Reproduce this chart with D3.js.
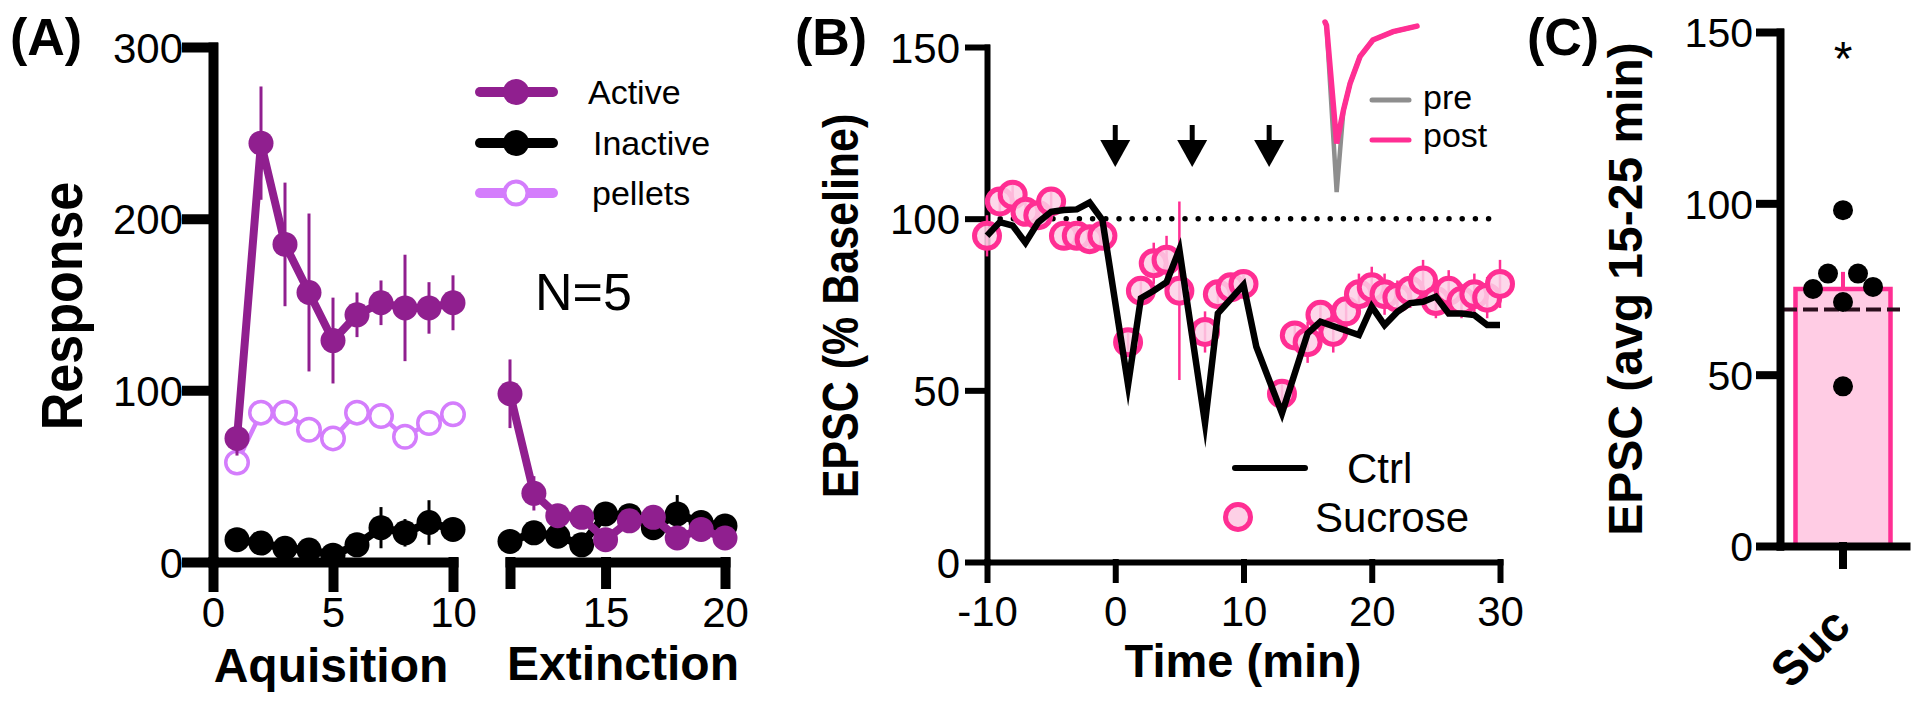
<!DOCTYPE html>
<html><head><meta charset="utf-8">
<script src="https://cdn.jsdelivr.net/npm/d3@7"></script>
<style>
body{margin:0;background:#fff}
svg{display:block}
text{font-family:"Liberation Sans",Arial,Helvetica,sans-serif}
</style>
</head><body>
<svg id="c" width="1920" height="709"></svg>
<script>
// ---------- DATA ----------
// Panel A
const acqX = [1,2,3,4,5,6,7,8,9,10];
const acqActive = [72,244,185,157,129,144,151,148,148,151];
const acqActiveSem = [10,33,36,46,25,13,13,31,15,16];
const acqInactive = [13,11,8,7,4,10,20,17,23,19];
const acqInactiveSem = [2,2,2,2,2,3,12,8,13,5];
const acqPellets = [58,87,87,77,72,87,85,73,81,86];
const extX = [11,12,13,14,15,16,17,18,19,20];
const extActive = [98,40,27,26,13,24,26,14,19,14];
const extActiveSem = [20,10,3,3,3,3,3,3,3,3];
const extInactive = [12,17,15,10,28,27,20,28,23,21];
const extInactiveSem = [3,3,3,3,3,3,3,11,3,3];
const aYTicks = [0,100,200,300];
const aAcqTicks = [0,5,10];
const aExtTicks = [11,15,20];
const aLegend = ["Active","Inactive","pellets"];

// Panel B
const sucT = [-10,-9,-8,-7,-6,-5,-4,-3,-2,-1,1,2,3,4,5,7,8,9,10,13,14,15,16,17,18,19,20,21,22,23,24,25,26,27,28,29,30];
const sucV = [95,105,107,102,101,105,95,95,94,95,64,79,87,88,79,67,78,80,81,49,66,64,72,67,73,78,80,78,77,79,82,76,79,76,78,77,81];
const sucSem = [6,4,4,4,4,4,4,4,4,4,4,4,6,7,26,6,4,4,4,4,4,6,4,6,5,6,6,6,5,5,6,5,6,5,6,6,7];
const ctrlT = [-10,-9,-8,-7,-6,-5,-4,-3,-2,-1,1,2,3,4,5,7,8,10,11,13,15,16,19,20,21,22,23,24,25,26,27,28,29,30];
const ctrlV = [95,99,98,93,99,102,102.5,102.7,104.7,99.6,51.6,76.8,79,81.5,91,40.4,72.4,80.7,62.7,43.3,66.6,70,66.1,74.4,69,72.9,75.4,75.8,77.3,72.4,72.4,71.9,69,69];
const arrowTimes = [0,6,12];
const baselineLevel = 100;
const bYTicks = [0,50,100,150];
const bXTicks = [-10,0,10,20,30];
const traceT = [0,0.5,3.8,6,8.2,11.4,15.6,22.2,30];
const tracePre = [0,-2,-100,-52,-36,-20.4,-10.6,-5.7,-2.4];
const tracePost = [0,-2,-71.5,-52,-36,-20.4,-10.6,-5.7,-2.4];
const traceLegend = ["pre","post"];

// Panel C
const cCategories = ["Suc"];
const cMean = [75];
const cSem = [5];
const cDots = [98,79.5,79.5,75,75.6,71.2,46.6];
const cDotOffsets = [0,-1,1,-2,2,0,0];
const cCtrlLevel = 69;
const cYTicks = [0,50,100,150];

// ---------- STYLE ----------
const PURPLE = "#901f8f", LILAC = "#d47dfc", PINK = "#ff2e93", PINKFILL = "#fdd0e6", GREY = "#8e8e8e";
const svg = d3.select("#c");

function styleAxis(g, w, fs){
  g.attr("font-family",null).attr("font-size",null);
  g.select(".domain").attr("stroke","#000").attr("stroke-width",w).attr("stroke-linecap","square");
  g.selectAll(".tick line").attr("stroke","#000").attr("stroke-width",w).attr("stroke-linecap","square");
  g.selectAll(".tick text").attr("fill","#000").attr("font-size",fs)
    .attr("font-family",'"Liberation Sans",Arial,sans-serif');
}

// ---------- PANEL A ----------
const yA = d3.scaleLinear().domain([0,300]).range([562,47]);
const xA1 = d3.scaleLinear().domain([0,10]).range([213,453]);
const xA2 = d3.scaleLinear().domain([11,20]).range([510,725]);
const gA = svg.append("g");

styleAxis(gA.append("g").attr("transform","translate(213,0)")
  .call(d3.axisLeft(yA).tickValues(aYTicks).tickSize(26).tickSizeOuter(0).tickPadding(4)),10,42);
styleAxis(gA.append("g").attr("transform","translate(0,562)")
  .call(d3.axisBottom(xA1).tickValues(aAcqTicks).tickSize(25).tickSizeOuter(0).tickPadding(10)),10,42);
styleAxis(gA.append("g").attr("transform","translate(0,562)")
  .call(d3.axisBottom(xA2).tickValues(aExtTicks).tickSize(22).tickSizeOuter(0).tickPadding(13)
  .tickFormat(d=> d===11 ? "" : d)),10,42);
gA.selectAll(".tick text").filter(function(){return d3.select(this).attr("dy")==="0.32em";}).attr("dy","0.36em");

function series(g, xs, ys, sems, xs_, col, lw, r, open){
  const pts = xs.map((x,i)=>({x, y: ys[i], s: sems ? sems[i] : 0}));
  g.append("path").datum(pts).attr("fill","none").attr("stroke",col).attr("stroke-width",lw)
    .attr("stroke-linejoin","round")
    .attr("d", d3.line().x(d=>xs_(d.x)).y(d=>yA(d.y)));
  if (sems) g.selectAll(null).data(pts).enter().append("line")
    .attr("x1",d=>xs_(d.x)).attr("x2",d=>xs_(d.x))
    .attr("y1",d=>yA(d.y - d.s)).attr("y2",d=>yA(d.y + d.s))
    .attr("stroke",col).attr("stroke-width",3);
  g.selectAll(null).data(pts).enter().append("circle")
    .attr("cx",d=>xs_(d.x)).attr("cy",d=>yA(d.y))
    .attr("r", open ? r-1.75 : r)
    .attr("fill", open ? "#fff" : col)
    .attr("stroke", open ? col : "none").attr("stroke-width", open ? 3.5 : 0);
}
series(gA, acqX, acqPellets, null, xA1, LILAC, 4.5, 13, true);
series(gA, acqX, acqInactive, acqInactiveSem, xA1, "#000", 8, 12.5, false);
series(gA, extX, extInactive, extInactiveSem, xA2, "#000", 8, 12.5, false);
series(gA, acqX, acqActive, acqActiveSem, xA1, PURPLE, 8, 12.5, false);
series(gA, extX, extActive, extActiveSem, xA2, PURPLE, 8, 12.5, false);

// legend A
const legA = gA.selectAll("g.leg").data(aLegend).enter().append("g")
  .attr("transform",(d,i)=>`translate(0,${[92,143,193][i]})`);
legA.append("line").attr("x1",480).attr("x2",553).attr("y1",0).attr("y2",0)
  .attr("stroke",(d,i)=>[PURPLE,"#000",LILAC][i]).attr("stroke-width",10).attr("stroke-linecap","round");
legA.append("circle").attr("cx",516).attr("cy",0).attr("r",(d,i)=> i===2?11.5:13)
  .attr("fill",(d,i)=>[PURPLE,"#000","#fff"][i])
  .attr("stroke",(d,i)=> i===2?LILAC:"none").attr("stroke-width",4);
legA.append("text").attr("x",(d,i)=>[588,593,592][i]).attr("y",12).attr("font-size",34).text(d=>d);

gA.append("text").attr("x",535).attr("y",310).attr("font-size",52).text("N=5");
gA.append("text").attr("x",10).attr("y",55).attr("font-size",52).attr("font-weight","bold").text("(A)");
gA.append("text").attr("transform","translate(82,306) rotate(-90) scale(1,1.1)")
  .attr("text-anchor","middle").attr("font-size",52).attr("font-weight","bold").text("Response");
gA.append("text").attr("x",331).attr("y",682).attr("text-anchor","middle").attr("font-size",48).attr("font-weight","bold").text("Aquisition");
gA.append("text").attr("x",623).attr("y",680).attr("text-anchor","middle").attr("font-size",48).attr("font-weight","bold").text("Extinction");

// ---------- PANEL B ----------
const yB = d3.scaleLinear().domain([0,150]).range([562,47]);
const xB = d3.scaleLinear().domain([-10,30]).range([987,1500]);
const gB = svg.append("g");

styleAxis(gB.append("g").attr("transform","translate(987,0)")
  .call(d3.axisLeft(yB).tickValues(bYTicks).tickSize(19).tickSizeOuter(0).tickPadding(8)),6,42);
styleAxis(gB.append("g").attr("transform","translate(0,562)")
  .call(d3.axisBottom(xB).tickValues(bXTicks).tickSize(18).tickSizeOuter(0).tickPadding(16)
  .tickFormat(d=> d<0 ? "-"+Math.abs(d) : d)),6,42);
gB.selectAll(".tick text").filter(function(){return d3.select(this).attr("dy")==="0.32em";}).attr("dy","0.36em");

// dotted baseline
gB.append("line").attr("x1",xB(-10)).attr("x2",xB(30)).attr("y1",yB(baselineLevel)).attr("y2",yB(baselineLevel))
  .attr("stroke","#000").attr("stroke-width",5.5).attr("stroke-linecap","round").attr("stroke-dasharray","0,13.2");

// sucrose
const suc = sucT.map((t,i)=>({t, v: sucV[i], s: sucSem[i]}));
gB.selectAll(null).data(suc).enter().append("line")
  .attr("x1",d=>xB(d.t)).attr("x2",d=>xB(d.t)).attr("y1",d=>yB(d.v-d.s)).attr("y2",d=>yB(d.v+d.s))
  .attr("stroke",PINK).attr("stroke-width",2.5);
gB.selectAll(null).data(suc).enter().append("circle")
  .attr("cx",d=>xB(d.t)).attr("cy",d=>yB(d.v)).attr("r",12.5)
  .attr("fill",PINKFILL).attr("fill-opacity",0.85).attr("stroke",PINK).attr("stroke-width",5);

// ctrl
const ctrl = ctrlT.map((t,i)=>({t, v: ctrlV[i]}));
gB.append("path").datum(ctrl).attr("fill","none").attr("stroke","#000").attr("stroke-width",6.5)
  .attr("stroke-linejoin","miter").attr("stroke-miterlimit",10)
  .attr("d", d3.line().x(d=>xB(d.t)).y(d=>yB(d.v)));

// arrows
arrowTimes.forEach(t=>{
  const x = xB(t);
  gB.append("line").attr("x1",x).attr("x2",x).attr("y1",125).attr("y2",145).attr("stroke","#000").attr("stroke-width",5);
  gB.append("path").attr("d",`M${x-15},140L${x+15},140L${x},167Z`).attr("fill","#000");
});

// inset trace
const xT = d3.scaleLinear().domain([0,30]).range([1325,1417]);
const yT = d3.scaleLinear().domain([-100,0]).range([192,22]);
const trLine = d3.line().x((d,i)=>xT(traceT[i])).y(d=>yT(d));
gB.append("path").datum(tracePre).attr("fill","none").attr("stroke",GREY).attr("stroke-width",4.5)
  .attr("stroke-linejoin","miter").attr("d",trLine);
gB.append("path").datum(tracePost).attr("fill","none").attr("stroke",PINK).attr("stroke-width",5.5)
  .attr("stroke-linejoin","miter").attr("stroke-linecap","round").attr("d",trLine);
traceLegend.forEach((name,i)=>{
  const y = [100,140][i];
  gB.append("line").attr("x1",1372).attr("x2",1409).attr("y1",y).attr("y2",y)
    .attr("stroke",[GREY,PINK][i]).attr("stroke-width",5).attr("stroke-linecap","round");
  gB.append("text").attr("x",1423).attr("y",[109,147][i]).attr("font-size",34).text(name);
});

// legend B
gB.append("line").attr("x1",1235).attr("x2",1305).attr("y1",468).attr("y2",468)
  .attr("stroke","#000").attr("stroke-width",6).attr("stroke-linecap","round");
gB.append("text").attr("x",1347).attr("y",483).attr("font-size",42).text("Ctrl");
gB.append("circle").attr("cx",1238).attr("cy",517).attr("r",12.5).attr("fill",PINKFILL).attr("stroke",PINK).attr("stroke-width",5);
gB.append("text").attr("x",1315).attr("y",532).attr("font-size",42).text("Sucrose");

gB.append("text").attr("x",795).attr("y",55).attr("font-size",52).attr("font-weight","bold").text("(B)");
gB.append("text").attr("transform","translate(858,306) rotate(-90) scale(1,1.14)")
  .attr("text-anchor","middle").attr("font-size",43).attr("font-weight","bold").text("EPSC (% Baseline)");
gB.append("text").attr("x",1243).attr("y",677).attr("text-anchor","middle").attr("font-size",47).attr("font-weight","bold").text("Time (min)");

// ---------- PANEL C ----------
const yC = d3.scaleLinear().domain([0,150]).range([546,32]);
const xC = d3.scaleBand().domain(cCategories).range([1780,1906]);
const gC = svg.append("g");
const bw = xC.bandwidth()*0.754;
const cx0 = xC("Suc") + xC.bandwidth()/2;

gC.selectAll(null).data(cCategories).enter().append("rect")
  .attr("x",d=>xC(d)+xC.bandwidth()/2-bw/2).attr("width",bw)
  .attr("y",(d,i)=>yC(cMean[i])).attr("height",(d,i)=>yC(0)-yC(cMean[i]))
  .attr("fill","#ffcce4").attr("stroke",PINK).attr("stroke-width",4.5);
gC.selectAll(null).data(cCategories).enter().append("line")
  .attr("x1",cx0).attr("x2",cx0).attr("y1",(d,i)=>yC(cMean[i])).attr("y2",(d,i)=>yC(cMean[i]+cSem[i]))
  .attr("stroke",PINK).attr("stroke-width",4);
gC.append("line").attr("x1",1782).attr("x2",1900).attr("y1",yC(cCtrlLevel)).attr("y2",yC(cCtrlLevel))
  .attr("stroke","#2a0e1c").attr("stroke-width",4).attr("stroke-dasharray","15,6");
gC.selectAll(null).data(cDots).enter().append("circle")
  .attr("cx",(d,i)=>cx0 + cDotOffsets[i]*15).attr("cy",d=>yC(d)).attr("r",10).attr("fill","#000");

styleAxis(gC.append("g").attr("transform","translate(1780,0)")
  .call(d3.axisLeft(yC).tickValues(cYTicks).tickSize(20).tickSizeOuter(0).tickPadding(7)),8,41);
gC.selectAll(".tick text").attr("dy","0.36em");
const xaxC = gC.append("g").attr("transform","translate(0,546)")
  .call(d3.axisBottom(xC).tickSize(19).tickSizeOuter(0));
styleAxis(xaxC,8,44);
xaxC.selectAll(".tick text").remove();
gC.append("text").attr("transform","translate(1853,628) rotate(-45)").attr("text-anchor","end")
  .attr("font-size",48).attr("font-weight","bold").text(cCategories[0]);

gC.append("text").attr("x",cx0).attr("y",75).attr("text-anchor","middle").attr("font-size",48).text("*");
gC.append("text").attr("x",1527).attr("y",55).attr("font-size",52).attr("font-weight","bold").text("(C)");
gC.append("text").attr("transform","translate(1642,289) rotate(-90)")
  .attr("text-anchor","middle").attr("font-size",48).attr("font-weight","bold").text("EPSC (avg 15-25 min)");
</script>
</body></html>
